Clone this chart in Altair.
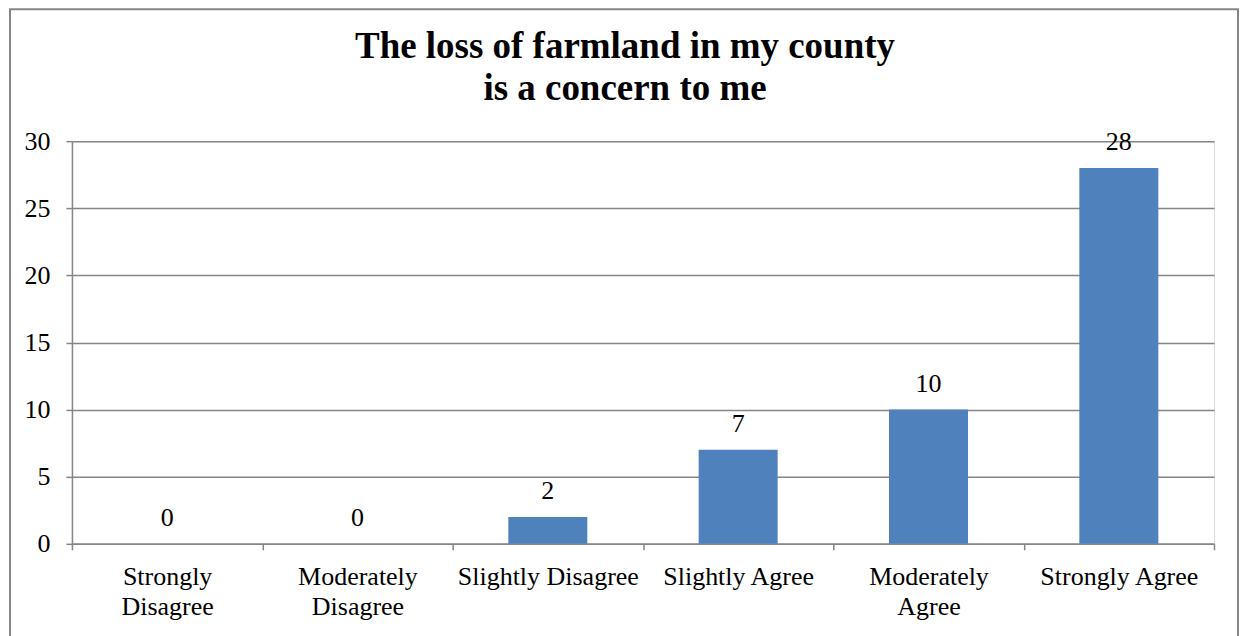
import altair as alt
import pandas as pd
import json

categories = ["Strongly Disagree", "Moderately Disagree", "Slightly Disagree",
              "Slightly Agree", "Moderately Agree", "Strongly Agree"]
counts = [0, 0, 2, 7, 10, 28]
label_lines = [["Strongly", "Disagree"], ["Moderately", "Disagree"], ["Slightly Disagree"],
               ["Slightly Agree"], ["Moderately", "Agree"], ["Strongly Agree"]]
y_ticks = [0, 5, 10, 15, 20, 25, 30]
title_lines = ["The loss of farmland in my county", "is a concern to me"]

df = pd.DataFrame({"cat": categories, "n": counts})
one = pd.DataFrame({"k": [0]})
lab_map = json.dumps(dict(zip(categories, label_lines)))

FONT = "Liberation Serif"
GRAY = "#868686"
W, H = 1143, 403

x = alt.X("cat:N", sort=categories,
          scale=alt.Scale(paddingInner=0, paddingOuter=0),
          axis=alt.Axis(title=None, labelAngle=0, labelFont=FONT, labelFontSize=26,
                        labelColor="black", labelPadding=14, tickBand="extent",
                        tickSize=6, tickColor=GRAY, domainColor=GRAY, tickWidth=1.5,
                        domainWidth=1.5, labelLineHeight=30, labelBaseline="top",
                        labelExpr=f"{lab_map}[datum.value]", labelLimit=300))
y = alt.Y("n:Q", scale=alt.Scale(domain=[0, 30], nice=False),
          axis=alt.Axis(title=None, values=y_ticks, labelFont=FONT, labelFontSize=26,
                        labelColor="black", labelPadding=16, tickSize=6, tickColor=GRAY,
                        tickWidth=1.5, domainColor=GRAY, domainWidth=1.5,
                        gridColor=GRAY, gridWidth=1.5))

bars = alt.Chart(df).mark_bar(color="#4F81BD", width=alt.RelativeBandSize(0.415)).encode(x=x, y=y)
labels = alt.Chart(df).mark_text(font=FONT, fontSize=26, baseline="alphabetic", dy=-18,
                                 color="black").encode(x=x, y=y, text="n:Q")
title = alt.Chart(one).mark_text(font=FONT, fontSize=37, fontWeight="bold", color="black",
                                 baseline="alphabetic", align="center", lineHeight=42).encode(
    x=alt.value(W / 2 - 18), y=alt.value(-83), text=alt.value(title_lines))
border = alt.Chart(one).mark_rect(fill=None, stroke=GRAY, strokeWidth=2).encode(
    x=alt.value(-62), x2=alt.value(W + 24), y=alt.value(-132), y2=alt.value(H + 120))

chart = alt.layer(bars, labels, title, border).properties(
    width=W, height=H,
    padding={"left": 64, "top": 133, "right": 26, "bottom": 92},
    autosize=alt.AutoSizeParams(type="none"),
).configure_view(stroke=None).configure(background="white")

chart.save("out.html", embed_options={"renderer": "svg", "actions": False})
